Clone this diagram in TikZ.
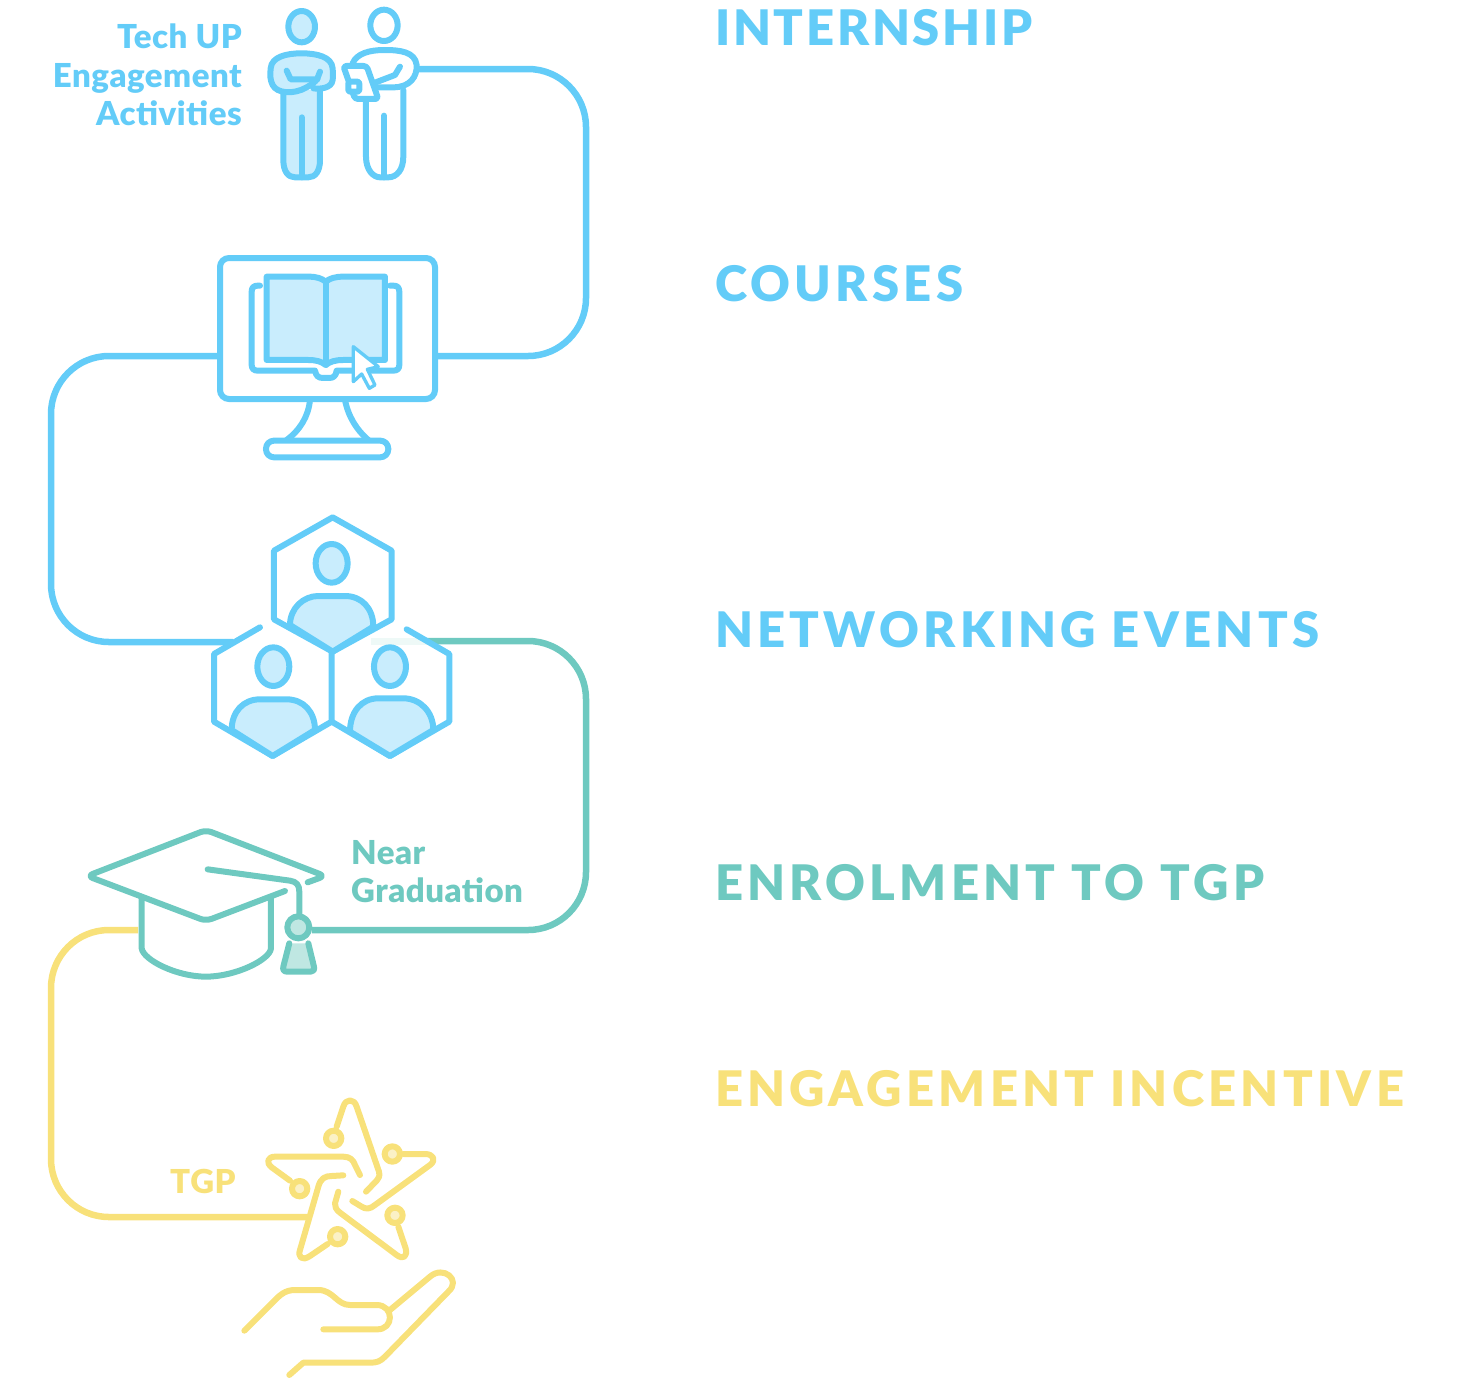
\documentclass[tikz,border=0pt]{standalone}
\usepackage{fontspec}
\setmainfont{Lato}[BoldFont={Lato Black},BoldFeatures={LetterSpace=1.5}]
\newfontfamily\headfont{Lato}[BoldFont={Lato Black},BoldFeatures={LetterSpace=8.7}]
\newfontfamily\headfontb{Lato}[BoldFont={Lato Black},BoldFeatures={LetterSpace=5.5}]
\definecolor{bl}{HTML}{63CCF8}
\definecolor{bll}{HTML}{C9EDFD}
\definecolor{te}{HTML}{6EC9C0}
\definecolor{tel}{HTML}{BFE7E2}
\definecolor{ye}{HTML}{F8E17A}
\definecolor{yel}{HTML}{FBF1C6}
\tikzset{
 icon/.style={x=.3333pt,y=-.3333pt,line width=6pt,line cap=round,line join=round},
 conn/.style={line width=6.5pt,rounded corners=58pt},
 head/.style={anchor=base west,inner sep=0,font=\headfont\fontsize{49}{49}\selectfont\bfseries},
 headb/.style={anchor=base west,inner sep=0,font=\headfontb\fontsize{49}{49}\selectfont\bfseries},
 lab/.style={inner sep=0,font=\fontsize{33}{33}\selectfont\bfseries},
}
\begin{document}
\begin{tikzpicture}[x=1pt,y=-1pt]
\useasboundingbox (0,0) rectangle (1475,1377);
% anchors
\coordinate (pR) at (417,69);
\coordinate (monR) at (436,356);
\coordinate (monL) at (219,356);
\coordinate (hexL) at (233,642);
\coordinate (hexR) at (427,641);
\coordinate (capR) at (312,930);
\coordinate (capL) at (138,930);
\coordinate (starL) at (308,1217);
% connectors
\fill[color=te!12] (371,638) rectangle (427,644.7);
\draw[conn,bl] (pR) -- (586,69) -- (586,356) -- (monR);
\draw[conn,bl] (monL) -- (51,356) -- (51,642) -- (hexL);
\draw[conn,te] (hexR) -- (586,641) -- (586,930) -- (capR);
\draw[conn,ye] (capL) -- (51,930) -- (51,1217) -- (starL);
% persons
\begin{scope}[shift={(260,0)},icon,draw=bl]
 \draw[fill=bll] (125,80) circle[x radius=40,y radius=47];
 \draw[fill=bll] (70,270) -- (70,480) .. controls (70,515) and (85,532) .. (105,532) -- (145,532) .. controls (165,532) and (180,515) .. (180,480) -- (180,270);
 \draw (125,352) -- (125,532);
 \draw[fill=bll] (160,265) .. controls (180,268) and (215,265) .. (218,240) .. controls (220,225) and (218,215) .. (218,205) .. controls (215,170) and (170,160) .. (125,160) .. controls (80,160) and (35,170) .. (32,205) .. controls (30,225) and (30,240) .. (38,255) .. controls (50,280) and (100,285) .. (140,262) .. controls (150,256) and (165,248) .. (172,236) -- (180,215);
 \draw (80,212) -- (92,238) -- (172,238);
 \draw (372,76) circle[x radius=41,y radius=47];
 \draw (278,190) .. controls (290,160) and (330,150) .. (372,150) .. controls (420,150) and (465,155) .. (470,195) .. controls (472,230) and (450,262) .. (400,262) -- (355,262);
 \draw (420,200) -- (405,225) -- (345,248);
 \draw[rounded corners=3pt] (250,198) -- (320,198) -- (355,297) -- (285,297) -- cycle;
 \draw[fill=white,rounded corners=2pt] (265,245) rectangle (298,275);
 \draw (318,300) -- (318,470) .. controls (318,510) and (340,532) .. (360,532) -- (385,532) .. controls (410,532) and (430,510) .. (430,470) -- (430,270);
 \draw (372,347) -- (372,532);
\end{scope}
% monitor
\node[draw=bl,line width=6pt,rounded corners=9pt,minimum width=215pt,minimum height=141pt,inner sep=0,fill=white] (monitor) at (327.5,328.5) {};
\begin{scope}[shift={(210,250)},icon,draw=bl]
 \draw (300,450) .. controls (295,500) and (270,540) .. (230,570);
 \draw (405,450) .. controls (415,500) and (440,540) .. (475,570);
 \draw[rounded corners=8pt] (168,572) rectangle (535,622);
 \draw (150,107) -- (143,107) .. controls (132,107) and (125,112) .. (125,125) -- (125,345) .. controls (125,356) and (132,362) .. (143,362) -- (315,362) .. controls (318,378) and (325,384) .. (340,384) -- (358,384) .. controls (370,384) and (378,378) .. (380,362) -- (550,362) .. controls (562,362) and (568,356) .. (568,345) -- (568,125) .. controls (568,112) and (562,107) .. (550,107) -- (540,107);
 \draw[fill=bll] (170,80) -- (295,80) .. controls (320,80) and (335,85) .. (347,95) .. controls (360,85) and (375,80) .. (400,80) -- (525,80) -- (525,330) -- (400,330) .. controls (375,330) and (360,335) .. (347,345) .. controls (335,335) and (320,330) .. (295,330) -- (170,330) -- cycle;
 \draw (347,95) -- (347,345);
 \draw[fill=white,line width=3.3pt] (430,290) -- (505,350) -- (472,358) -- (495,405) -- (478,415) -- (455,372) -- (430,395) -- cycle;
\end{scope}
% hexagons
\begin{scope}[shift={(200,510)},icon,draw=bl]
 \draw (398,22) -- (575,122) -- (575,328) -- (398,425) -- (222,328) -- (222,122) -- cycle;
 \draw[fill=bll] (270,345) .. controls (270,295) and (310,258) .. (355,258) -- (435,258) .. controls (485,258) and (520,295) .. (520,350) -- (398,425) -- cycle;
 \draw[fill=bll] (395,160) circle[x radius=48,y radius=58];
 \draw (180,352) -- (42,432) -- (42,635) -- (218,738) -- (395,635) -- (395,425);
 \draw[fill=bll] (95,660) .. controls (95,605) and (130,568) .. (180,568) -- (260,568) .. controls (310,568) and (345,605) .. (345,660) -- (218,738) -- cycle;
 \draw[fill=bll] (220,470) circle[x radius=48,y radius=58];
 \draw (620,358) -- (748,432) -- (748,635) -- (570,738) -- (395,635);
 \draw[fill=bll] (450,665) .. controls (450,605) and (485,565) .. (535,565) -- (610,565) .. controls (660,565) and (700,605) .. (700,660) -- (570,738) -- cycle;
 \draw[fill=bll] (570,470) circle[x radius=48,y radius=58];
\end{scope}
% cap
\begin{scope}[shift={(80,820)},icon,draw=te]
 \draw[rounded corners=6pt] (683,187) -- (735,168) -- (378,30) -- (22,168) -- (378,303) -- (615,213);
 \draw (383,148) -- (630,182) .. controls (650,185) and (658,195) .. (658,215) -- (658,290);
 \draw (185,235) -- (185,385) .. controls (190,420) and (290,470) .. (378,470) .. controls (465,470) and (570,420) .. (573,385) -- (573,235);
 \draw[fill=tel] (655,322) circle[radius=33];
 \draw[fill=tel] (628,370) -- (610,440) .. controls (608,450) and (612,455) .. (622,455) -- (692,455) .. controls (700,455) and (704,450) .. (702,440) -- (685,370);
\end{scope}
% star
\begin{scope}[shift={(255,1090)},icon,draw=ye]
 \draw[fill=yel] (236,145) circle[radius=23];
 \draw[fill=yel] (412,192) circle[radius=23];
 \draw[fill=yel] (420,376) circle[radius=23];
 \draw[fill=yel] (248,440) circle[radius=23];
 \draw[fill=yel] (134,296) circle[radius=23];
 \draw (245,110) -- (265,50) .. controls (272,25) and (298,25) .. (305,50) -- (372,245) .. controls (375,258) and (372,265) .. (365,272) -- (333,305);
 \draw (445,192) -- (510,192) .. controls (535,192) and (545,210) .. (525,225) -- (360,345) .. controls (345,358) and (332,358) .. (320,350) -- (292,333);
 \draw (430,410) -- (452,475) .. controls (458,500) and (445,510) .. (425,495) -- (255,368) .. controls (242,358) and (240,350) .. (240,340) -- (250,305);
 \draw (218,462) -- (165,498) .. controls (140,515) and (128,500) .. (135,480) -- (190,290) .. controls (197,265) and (210,258) .. (230,258) -- (265,256);
 \draw (105,272) -- (50,232) .. controls (32,218) and (38,200) .. (60,200) -- (265,200) .. controls (285,200) and (295,210) .. (300,225) -- (315,255);
\end{scope}
% hand
\begin{scope}[shift={(235,1260)},icon,draw=ye]
 \draw (28,212) -- (115,125) .. controls (135,105) and (150,90) .. (180,90) -- (250,90) .. controls (295,90) and (305,135) .. (345,135) -- (425,135) .. controls (478,135) and (478,210) .. (425,208) -- (265,208);
 \draw (465,150) -- (585,50) .. controls (625,15) and (680,60) .. (640,95) -- (450,290) .. controls (435,305) and (425,308) .. (405,308) -- (205,308) -- (163,345);
\end{scope}
% labels
\node[lab,text=bl,anchor=base east] (l1) at (242,48) {Tech UP};
\node[lab,text=bl,anchor=base east] (l2) at (242,87) {Engagement};
\node[lab,text=bl,anchor=base east] (l3) at (242,125) {Activities};
\node[lab,text=te,anchor=base west] (n1) at (351,864) {Near};
\node[lab,text=te,anchor=base west] (n2) at (351,902) {Graduation};
\node[lab,text=ye,anchor=base west] (tgp) at (170,1193) {TGP};
\node[headb,text=bl] (h1) at (715,45) {INTERNSHIP};
\node[head,text=bl] (h2) at (715,301) {COURSES};
\node[head,text=bl] (h3) at (715,647) {NETWORKING EVENTS};
\node[head,text=te] (h4) at (715,900) {ENROLMENT TO TGP};
\node[head,text=ye] (h5) at (715,1106) {ENGAGEMENT INCENTIVE};
\end{tikzpicture}
\end{document}
